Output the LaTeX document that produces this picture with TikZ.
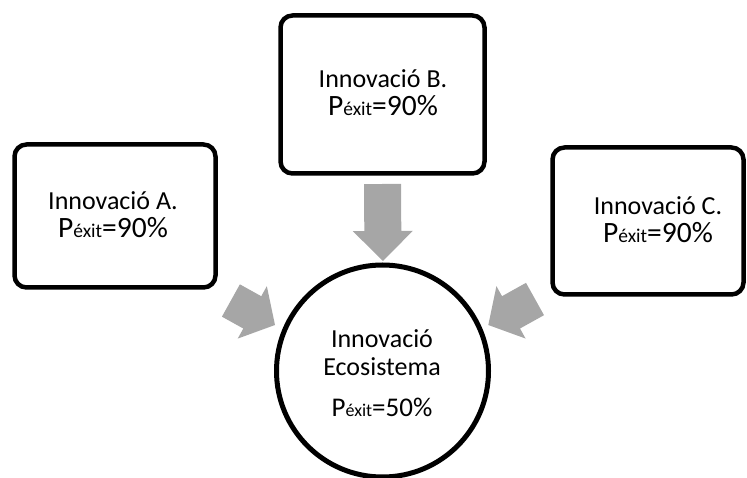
\documentclass[tikz,border=0pt]{standalone}
\usepackage{fontspec}
\setmainfont{Carlito}
\usetikzlibrary{calc}
\definecolor{arrowgray}{RGB}{166,166,166}
\tikzset{
  box/.style={draw=black, line width=4.5pt, rounded corners=12pt, inner sep=0pt},
  hub/.style={draw=black, line width=5pt, circle, inner sep=0pt, minimum size=212pt},
  lbl/.style={align=center, inner sep=0pt, font=\fontsize{26}{28}\selectfont},
  blockfill/.style={fill=arrowgray, draw=none},
}
% success probability: "P" and value at size #1, "éxit" at size #2
\newcommand{\psucc}[3]{\fontsize{#1}{28}\selectfont P{\fontsize{#2}{28}\selectfont éxit}=#3\%}
% wide block arrow from a back point #1 to a tip #2, head length #4
\newcommand{\blockarrow}[4]{%
  \coordinate (#3h) at ($(#2)!#4!(#1)$);
  \fill[blockfill] ($(#1)!18.5pt!90:(#2)$) -- ($(#3h)!18.5pt!90:(#2)$)
    -- ($(#3h)!30pt!90:(#2)$) -- (#2) -- ($(#3h)!30pt!-90:(#2)$)
    -- ($(#3h)!18.5pt!-90:(#2)$) -- ($(#1)!18.5pt!-90:(#2)$) -- cycle;
}
\begin{document}
\begin{tikzpicture}[x=1pt, y=-1pt]
\useasboundingbox (0,0) rectangle (747,478);

% the three innovations
\node[box, minimum width=201pt, minimum height=143pt] (a) at (115,216) {};
\node[box, minimum width=204pt, minimum height=158pt] (b) at (382.5,94.5) {};
\node[box, minimum width=191pt, minimum height=147pt] (c) at (648,221) {};

% the ecosystem
\node[hub] (eco) at (382.5,371) {};

% labels
\node[lbl] (ta) at (113,215) {Innovació A.\\\psucc{29.5}{19.5}{90}};
\node[lbl] (tb) at (383,93) {Innovació B.\\\psucc{29.5}{19.5}{90}};
\node[lbl] (tc) at (658,220) {Innovació C.\\\psucc{29.5}{19.5}{90}};
\node[lbl] (te) at (382,373) {Innovació\\Ecosistema\\[13pt]\psucc{27}{18}{50}};

% block arrows towards the ecosystem
\coordinate (ba) at (230.9,300.5);
\coordinate (ta1) at (275,325);
\coordinate (bb) at (382.5,184);
\coordinate (tb1) at (383,261);
\coordinate (bc) at (535,299);
\coordinate (tc1) at (488.3,325);
\blockarrow{ba}{ta1}{ha}{26pt}
\blockarrow{bb}{tb1}{hb}{30pt}
\blockarrow{bc}{tc1}{hc}{26pt}
\end{tikzpicture}
\end{document}
